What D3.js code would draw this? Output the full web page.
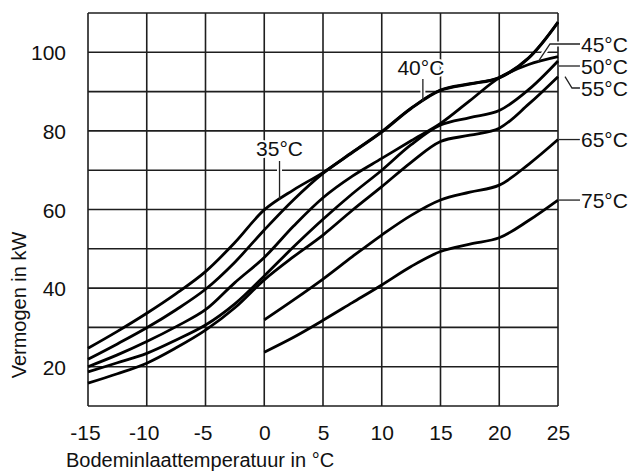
<!DOCTYPE html>
<html>
<head>
<meta charset="utf-8">
<script src="https://cdn.jsdelivr.net/npm/d3@7"></script>
<style>
  html, body { margin: 0; background: #fff; }
  svg { display: block; }
  text { font-family: "Liberation Sans", Arial, Helvetica, sans-serif; fill: #111; }
</style>
</head>
<body>
<svg id="chart" width="634" height="473"></svg>
<script>
// Brine inlet temperature (°C) sample points
const tempsFull = [-15, -12.5, -10, -7.5, -5, -2.5, 0, 2.5, 5, 7.5, 10, 12.5, 15, 17.5, 20, 22.5, 25];
const tempsHigh = [0, 2.5, 5, 7.5, 10, 12.5, 15, 17.5, 20, 22.5, 25];

// Heating capacity (kW) per flow temperature
const cap35 = [24.7, 29.0, 33.6, 38.6, 44.2, 51.6, 59.9, 65.0, 69.4, 74.6, 79.8, 85.8, 90.4, 92.0, 93.6, 98.6, 107.7];
const cap40 = [21.9, 25.8, 29.9, 34.5, 39.7, 46.6, 54.8, 62.5, 69.2, 74.5, 79.7, 85.7, 90.3, 91.9, 93.5, 98.5, 107.6];
const cap45 = [20.0, 23.0, 26.4, 30.2, 34.5, 41.4, 47.8, 55.8, 63.0, 68.5, 73.0, 77.5, 81.9, 87.7, 93.5, 96.9, 98.9];
const cap50 = [18.7, 21.0, 23.4, 26.8, 30.6, 36.0, 43.1, 50.5, 57.5, 64.0, 70.0, 76.5, 81.5, 83.4, 85.2, 90.5, 97.8];
const cap55 = [15.8, 18.2, 20.9, 24.8, 29.3, 35.0, 42.1, 48.0, 53.5, 59.8, 65.8, 72.0, 77.3, 78.9, 80.7, 86.8, 93.8];
const cap65 = [31.9, 37.0, 42.3, 48.0, 53.5, 58.5, 62.4, 64.4, 66.2, 71.5, 77.8];
const cap75 = [23.7, 27.5, 31.8, 36.3, 40.8, 45.5, 49.3, 51.2, 52.8, 57.2, 62.4];

const seriesNames = ["35°C", "40°C", "45°C", "50°C", "55°C", "65°C", "75°C"];

// Axis ticks
const xTicks = [-15, -10, -5, 0, 5, 10, 15, 20, 25];
const yTicks = [20, 40, 60, 80, 100];

const series = [
  { name: seriesNames[0], xs: tempsFull, ys: cap35 },
  { name: seriesNames[1], xs: tempsFull, ys: cap40 },
  { name: seriesNames[2], xs: tempsFull, ys: cap45 },
  { name: seriesNames[3], xs: tempsFull, ys: cap50 },
  { name: seriesNames[4], xs: tempsFull, ys: cap55 },
  { name: seriesNames[5], xs: tempsHigh, ys: cap65 },
  { name: seriesNames[6], xs: tempsHigh, ys: cap75 }
];

const svg = d3.select("#chart");
const x = d3.scaleLinear().domain([-15, 25]).range([88, 558]);
const y = d3.scaleLinear().domain([10, 110]).range([406, 13]);

// linear lookup of a curve value, used to anchor the leader lines
function valueAt(s, t) {
  const i = d3.bisectRight(s.xs, t) - 1;
  const j = Math.min(i + 1, s.xs.length - 1);
  if (i === j) return s.ys[i];
  const f = (t - s.xs[i]) / (s.xs[j] - s.xs[i]);
  return s.ys[i] + f * (s.ys[j] - s.ys[i]);
}

// grid
const grid = svg.append("g").attr("stroke", "#1e1e1e").attr("stroke-width", 1.6);
grid.selectAll("line.v").data(d3.range(-15, 26, 5)).join("line")
  .attr("x1", d => x(d)).attr("x2", d => x(d))
  .attr("y1", y(110)).attr("y2", y(10));
grid.selectAll("line.h").data(d3.range(10, 111, 10)).join("line")
  .attr("x1", x(-15)).attr("x2", x(25))
  .attr("y1", d => y(d)).attr("y2", d => y(d));

// axes (labels only, ticks drawn by the grid)
const xAxis = d3.axisBottom(x).tickValues(xTicks).tickSize(0).tickPadding(0).tickFormat(d => String(d));
const gx = svg.append("g").attr("transform", `translate(0,${y(10)})`).call(xAxis);
gx.select(".domain").remove();
gx.selectAll("text")
  .attr("y", 34).attr("dy", 0)
  .attr("dx", d => d < 0 ? -3 : 0)
  .style("font-size", "21px").attr("fill", "#111");

const yAxis = d3.axisLeft(y).tickValues(yTicks).tickSize(0).tickPadding(0).tickFormat(d => String(d));
const gy = svg.append("g").attr("transform", `translate(66,0)`).call(yAxis);
gy.select(".domain").remove();
gy.selectAll("text").attr("x", 0).attr("dy", "0.36em").style("font-size", "21px").attr("fill", "#111");

// axis titles
svg.append("text")
  .attr("x", 66).attr("y", 467)
  .style("font-size", "20px")
  .text("Bodeminlaattemperatuur in °C");
svg.append("text")
  .attr("transform", "translate(26,305) rotate(-90)")
  .attr("text-anchor", "middle")
  .style("font-size", "20px")
  .text("Vermogen in kW");

// label leaders
const byName = Object.fromEntries(series.map(s => [s.name, s]));
function pt(name, t) { return [x(t), y(valueAt(byName[name], t))]; }

const leaders = [];
{
  const a = pt("35°C", 1.3);
  leaders.push({ path: [[a[0], 161], a], text: "35°C", tx: a[0], ty: 156, anchor: "middle" });
  const b = pt("40°C", 13.5);
  leaders.push({ path: [[b[0], 79], b], text: "40°C", tx: b[0] - 2, ty: 75, anchor: "middle" });
  const p45 = pt("45°C", 23.3);
  leaders.push({ path: [p45, [p45[0] + 12, 44], [580, 44]], text: "45°C", tx: 581, ty: 44, anchor: "start", mid: true });
  leaders.push({ path: [[559, 66], [580, 66]], text: "50°C", tx: 581, ty: 66, anchor: "start", mid: true });
  const e55 = pt("55°C", 25);
  leaders.push({ path: [[565, e55[1]], [572, 88], [580, 88]], text: "55°C", tx: 581, ty: 88, anchor: "start", mid: true });
  const e65 = pt("65°C", 25);
  leaders.push({ path: [[559, e65[1]], [580, e65[1]]], text: "65°C", tx: 581, ty: e65[1], anchor: "start", mid: true });
  const e75 = pt("75°C", 25);
  leaders.push({ path: [[559, e75[1]], [580, e75[1]]], text: "75°C", tx: 581, ty: e75[1], anchor: "start", mid: true });
}
const pathGen = d3.line();

// white halos break the grid around the leaders (drawn below the curves)
svg.append("g").selectAll("path").data(leaders).join("path")
  .attr("d", d => pathGen(d.path)).attr("fill", "none")
  .attr("stroke", "#fff").attr("stroke-width", 5);

// curves
const line = d3.line()
  .x(d => x(d[0])).y(d => y(d[1]))
  .curve(d3.curveCatmullRom.alpha(0.5));
svg.append("g").selectAll("path").data(series).join("path")
  .attr("d", s => line(s.xs.map((t, i) => [t, s.ys[i]])))
  .attr("fill", "none").attr("stroke", "#000")
  .attr("stroke-width", 2.8).attr("stroke-linejoin", "round");

// leader lines and labels
const lg = svg.append("g");
lg.selectAll("path").data(leaders).join("path")
  .attr("d", d => pathGen(d.path)).attr("fill", "none")
  .attr("stroke", "#222").attr("stroke-width", 1.3);
lg.selectAll("text").data(leaders).join("text")
  .attr("x", d => d.tx).attr("y", d => d.ty)
  .attr("text-anchor", d => d.anchor)
  .attr("dy", d => d.mid ? "0.36em" : 0)
  .style("font-size", "21px")
  .attr("stroke", "#fff").attr("stroke-width", 4).attr("paint-order", "stroke")
  .text(d => d.text);
</script>
</body>
</html>
